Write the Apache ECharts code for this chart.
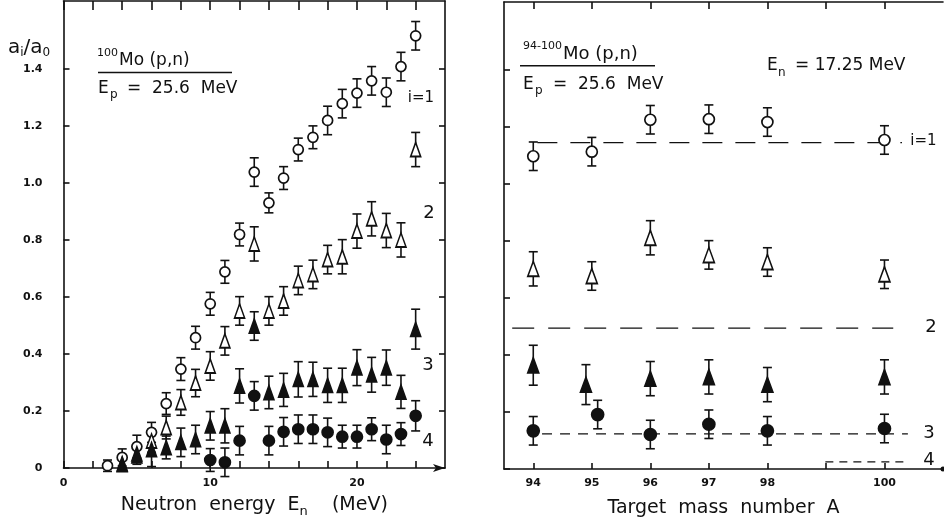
<!DOCTYPE html>
<html><head><meta charset="utf-8">
<script src="https://cdn.jsdelivr.net/npm/echarts@6/dist/echarts.min.js"></script>
<style>html,body{margin:0;padding:0;background:#fff}#c{width:944px;height:523px}</style>
</head><body><div id="c"></div>
<script>
// ---------- Left panel: 100Mo(p,n), Ep = 25.6 MeV ----------
const enI1  = [3,4,5,6,7,8,9,10,11,12,13,14,15,16,17,18,19,20,21,22,23,24];
const valI1 = [0.008,0.037,0.075,0.125,0.226,0.347,0.457,0.576,0.688,0.819,1.038,0.930,1.017,1.117,1.160,1.219,1.278,1.315,1.358,1.318,1.408,1.516];
const errI1 = [0.02,0.03,0.04,0.035,0.038,0.04,0.04,0.04,0.04,0.04,0.05,0.035,0.04,0.04,0.04,0.05,0.05,0.05,0.05,0.05,0.05,0.05];

const enI2  = [4,5,6,7,8,9,10,11,12,13,14,15,16,17,18,19,20,21,22,23,24];
const valI2 = [0.012,0.05,0.095,0.142,0.230,0.298,0.358,0.446,0.551,0.786,0.551,0.586,0.658,0.679,0.731,0.741,0.831,0.874,0.833,0.800,1.117];
const errI2 = [0.02,0.03,0.04,0.04,0.045,0.048,0.05,0.05,0.05,0.06,0.05,0.05,0.05,0.05,0.05,0.06,0.06,0.06,0.06,0.06,0.06];

const enI3  = [4,5,6,7,8,9,10,11,12,13,14,15,16,17,18,19,20,21,22,23,24];
const valI3 = [0.015,0.043,0.065,0.072,0.09,0.10,0.148,0.148,0.288,0.498,0.265,0.274,0.311,0.311,0.290,0.290,0.352,0.327,0.352,0.267,0.487];
const errI3 = [0.02,0.03,0.06,0.04,0.05,0.05,0.05,0.06,0.06,0.05,0.057,0.058,0.062,0.06,0.06,0.06,0.063,0.061,0.062,0.058,0.07];

const enI4  = [10,11,12,13,14,15,16,17,18,19,20,21,22,23,24];
const valI4 = [0.028,0.02,0.096,0.253,0.096,0.127,0.136,0.136,0.125,0.11,0.11,0.136,0.10,0.119,0.183];
const errI4 = [0.04,0.05,0.05,0.05,0.05,0.05,0.05,0.05,0.05,0.04,0.04,0.04,0.05,0.04,0.053];

// ---------- Right panel: 94-100Mo(p,n), En = 17.25 MeV ----------
const massI1 = [94,95,96,97,98,100];
const mValI1 = [1.097,1.113,1.225,1.227,1.217,1.154];
const mErrI1 = [0.05,0.05,0.05,0.05,0.05,0.05];
const massI2 = [94,95,96,97,98,100];
const mValI2 = [0.702,0.677,0.811,0.751,0.726,0.683];
const mErrI2 = [0.06,0.05,0.06,0.05,0.05,0.05];
const massI3 = [94,94.9,96,97,98,100];
const mValI3 = [0.364,0.296,0.317,0.323,0.296,0.323];
const mErrI3 = [0.07,0.07,0.06,0.06,0.06,0.06];
const massI4 = [94,95.1,96,97,98,100];
const mValI4 = [0.134,0.191,0.121,0.157,0.134,0.142];
const mErrI4 = [0.05,0.05,0.05,0.05,0.05,0.05];

// model (dashed) levels
const modelI1 = {x:[94.07,100.3], y:1.145};
const modelI2 = {x:[93.64,100.15], y:0.494};
const modelI3 = {x:[94.15,100.4], y:0.123};
const modelI4 = {x:[98.99,100.4], y:0.025};

// ticks
const yTicks = [0,0.2,0.4,0.6,0.8,1.0,1.2,1.4];
const enTicks = [0,2,4,6,8,10,12,14,16,18,20,22,24];
const enLabels = [0,10,20];
const massTicks = [94,95,96,97,98,99,100];
const massLabels = [94,95,96,97,98,100];

const Y_MAX = 1.638;
const INK = '#111';

function pts(xs, ys){ return xs.map((x,i)=>[x, ys[i]]); }
function errs(xs, ys, es){ return xs.map((x,i)=>[x, ys[i]-es[i], ys[i]+es[i]]); }
function errRender(params, api){
  const x = api.value(0);
  const a = api.coord([x, api.value(1)]), b = api.coord([x, api.value(2)]);
  const w = 4.5;
  const st = {stroke: INK, lineWidth: 1.6, fill: null};
  return {type:'group', children:[
    {type:'line', shape:{x1:a[0],y1:a[1],x2:b[0],y2:b[1]}, style:st},
    {type:'line', shape:{x1:a[0]-w,y1:a[1],x2:a[0]+w,y2:a[1]}, style:st},
    {type:'line', shape:{x1:b[0]-w,y1:b[1],x2:b[0]+w,y2:b[1]}, style:st}
  ]};
}
function errSeries(xi, yi, data){
  return {type:'custom', xAxisIndex:xi, yAxisIndex:yi, renderItem: errRender,
    encode:{x:0, y:[1,2]}, data, z:2, silent:true};
}
function scat(xi, yi, data, symbol, size, filled){
  return {type:'scatter', xAxisIndex:xi, yAxisIndex:yi, data, symbol, symbolSize:size, z:3,
    itemStyle:{color: filled ? INK : '#fff', borderColor: INK, borderWidth: 1.7, opacity:1},
    emphasis:{disabled:true}};
}
function dashLine(model, dash, w){
  return {type:'line', xAxisIndex:2, yAxisIndex:2, symbol:'none', z:1, silent:true,
    data: model.x.map(x=>[x, model.y]),
    lineStyle:{color: INK, width: w || 1.3, type: dash}};
}

const axLine = {show:true, onZero:false, lineStyle:{color: INK, width: 1.6}};
const font = 'DejaVu Sans';
const tickLbl = {color:INK, fontSize:11, fontWeight:'bold', fontFamily:font};

const option = {
  animation:false,
  backgroundColor:'#fff',
  textStyle:{fontFamily: font},
  grid:[
    {left:63.5, top:1, width:381.5, height:468},
    {left:504, top:2, width:439, height:468}
  ],
  xAxis:[
    {gridIndex:0, type:'value', min:0, max:26, position:'bottom',
     axisLine:{...axLine, symbol:['none','arrow'], symbolSize:[6,12]},
     axisTick:{inside:true, length:7, customValues: enTicks, lineStyle:{color:INK, width:1.6}},
     axisLabel:{...tickLbl, customValues: enLabels, margin:10},
     splitLine:{show:false},
     name:'{a|Neutron  energy  E}{s|n}{a|    (MeV)}', nameLocation:'middle', nameGap:24,
     nameTextStyle:{rich:{a:{fontSize:19, fontFamily:font, color:INK, lineHeight:26},
                          s:{fontSize:13, fontFamily:font, color:INK, lineHeight:13, verticalAlign:'bottom'}}}},
    {gridIndex:0, type:'value', min:0, max:26, position:'top',
     axisLine:axLine,
     axisTick:{inside:true, length:9, customValues: enTicks, lineStyle:{color:INK, width:1.6}},
     axisLabel:{show:false}, splitLine:{show:false}},
    {gridIndex:1, type:'value', min:93.5, max:101, position:'bottom',
     axisLine:{...axLine, symbol:['none','circle'], symbolSize:[5,5]},
     axisTick:{inside:true, length:6, customValues: massTicks, lineStyle:{color:INK, width:1.6}},
     axisLabel:{...tickLbl, customValues: massLabels, margin:9},
     splitLine:{show:false},
     name:'Target  mass  number  A', nameLocation:'middle', nameGap:30,
     nameTextStyle:{fontSize:19, fontFamily:font, color:INK}},
    {gridIndex:1, type:'value', min:93.5, max:101, position:'top',
     axisLine:axLine,
     axisTick:{inside:true, length:7, customValues: massTicks, lineStyle:{color:INK, width:1.6}},
     axisLabel:{show:false}, splitLine:{show:false}}
  ],
  yAxis:[
    {gridIndex:0, type:'value', min:0, max:Y_MAX, position:'left',
     axisLine:axLine,
     axisTick:{inside:true, length:6, customValues: yTicks, lineStyle:{color:INK, width:1.6}},
     axisLabel:{...tickLbl, customValues: yTicks, margin:21,
       formatter: v => v === 0 ? '0' : v.toFixed(1)},
     splitLine:{show:false}},
    {gridIndex:0, type:'value', min:0, max:Y_MAX, position:'right',
     axisLine:axLine,
     axisTick:{inside:true, length:6, customValues: yTicks, lineStyle:{color:INK, width:1.6}},
     axisLabel:{show:false}, splitLine:{show:false}},
    {gridIndex:1, type:'value', min:0, max:Y_MAX, position:'left',
     axisLine:axLine,
     axisTick:{inside:true, length:6, customValues: yTicks, lineStyle:{color:INK, width:1.6}},
     axisLabel:{show:false}, splitLine:{show:false}}
  ],
  series:[
    errSeries(0,0, errs(enI1,valI1,errI1)),
    errSeries(0,0, errs(enI2,valI2,errI2)),
    errSeries(0,0, errs(enI3,valI3,errI3)),
    errSeries(0,0, errs(enI4,valI4,errI4)),
    scat(0,0, pts(enI1,valI1), 'circle', 10, false),
    scat(0,0, pts(enI2,valI2), 'triangle', [10,14], false),
    scat(0,0, pts(enI3,valI3), 'triangle', [10,14], true),
    scat(0,0, pts(enI4,valI4), 'circle', 11, true),

    dashLine(modelI1, [20,13]),
    dashLine(modelI2, [22,14]),
    dashLine(modelI3, [10,8]),
    dashLine(modelI4, [8,6]),
    errSeries(2,2, errs(massI1,mValI1,mErrI1)),
    errSeries(2,2, errs(massI2,mValI2,mErrI2)),
    errSeries(2,2, errs(massI3,mValI3,mErrI3)),
    errSeries(2,2, errs(massI4,mValI4,mErrI4)),
    scat(2,2, pts(massI1,mValI1), 'circle', 11, false),
    scat(2,2, pts(massI2,mValI2), 'triangle', [11,15], false),
    scat(2,2, pts(massI3,mValI3), 'triangle', [11,15], true),
    scat(2,2, pts(massI4,mValI4), 'circle', 12, true)
  ],
  graphic:[
    // y-axis title
    {type:'text', left:8, top:38, style:{text:'{a|a}{s|i}{a|/a}{s|0}', fill:INK,
      rich:{a:{fontSize:20, fontFamily:font, lineHeight:22, fill:INK},
            s:{fontSize:12, fontFamily:font, lineHeight:12, verticalAlign:'bottom', fill:INK}}}},
    // left panel header
    {type:'text', x:97, y:53, style:{text:'100', font:'11px "DejaVu Sans"', fill:INK, verticalAlign:'middle'}},
    {type:'text', x:119, y:61, style:{text:'Mo (p,n)', font:'17px "DejaVu Sans"', fill:INK, verticalAlign:'middle'}},
    {type:'line', shape:{x1:98, y1:72.5, x2:232, y2:72.5}, style:{stroke:INK, lineWidth:1.6}},
    {type:'text', x:98, y:88.5, style:{text:'E', font:'17px "DejaVu Sans"', fill:INK, verticalAlign:'middle'}},
    {type:'text', x:110, y:95, style:{text:'p', font:'12px "DejaVu Sans"', fill:INK, verticalAlign:'middle'}},
    {type:'text', x:127, y:88.5, style:{text:'=  25.6  MeV', font:'17px "DejaVu Sans"', fill:INK, verticalAlign:'middle'}},
    // left panel curve labels
    {type:'text', x:421, y:98.5, style:{text:'i=1', font:'15px "DejaVu Sans"', fill:INK, align:'center', verticalAlign:'middle'}},
    {type:'text', x:429, y:213.5, style:{text:'2', font:'18px "DejaVu Sans"', fill:INK, align:'center', verticalAlign:'middle'}},
    {type:'text', x:428, y:365, style:{text:'3', font:'18px "DejaVu Sans"', fill:INK, align:'center', verticalAlign:'middle'}},
    {type:'text', x:428, y:441.5, style:{text:'4', font:'18px "DejaVu Sans"', fill:INK, align:'center', verticalAlign:'middle'}},
    // right panel header
    {type:'text', x:523, y:46, style:{text:'94-100', font:'11px "DejaVu Sans"', fill:INK, verticalAlign:'middle'}},
    {type:'text', x:563, y:54, style:{text:'Mo (p,n)', font:'18px "DejaVu Sans"', fill:INK, verticalAlign:'middle'}},
    {type:'line', shape:{x1:520, y1:65.7, x2:655, y2:65.7}, style:{stroke:INK, lineWidth:1.6}},
    {type:'text', x:523, y:84.5, style:{text:'E', font:'17px "DejaVu Sans"', fill:INK, verticalAlign:'middle'}},
    {type:'text', x:535, y:91, style:{text:'p', font:'12px "DejaVu Sans"', fill:INK, verticalAlign:'middle'}},
    {type:'text', x:553, y:84.5, style:{text:'=  25.6  MeV', font:'17px "DejaVu Sans"', fill:INK, verticalAlign:'middle'}},
    {type:'text', x:767, y:66, style:{text:'E', font:'17px "DejaVu Sans"', fill:INK, verticalAlign:'middle'}},
    {type:'text', x:778, y:73, style:{text:'n', font:'12px "DejaVu Sans"', fill:INK, verticalAlign:'middle'}},
    {type:'text', x:795, y:66, style:{text:'= 17.25 MeV', font:'17px "DejaVu Sans"', fill:INK, verticalAlign:'middle'}},
    // right panel curve labels
    {type:'text', x:923.5, y:141, style:{text:'i=1', font:'15px "DejaVu Sans"', fill:INK, align:'center', verticalAlign:'middle'}},
    {type:'text', x:931, y:327, style:{text:'2', font:'18px "DejaVu Sans"', fill:INK, align:'center', verticalAlign:'middle'}},
    {type:'text', x:929, y:433, style:{text:'3', font:'18px "DejaVu Sans"', fill:INK, align:'center', verticalAlign:'middle'}},
    {type:'text', x:929, y:460, style:{text:'4', font:'18px "DejaVu Sans"', fill:INK, align:'center', verticalAlign:'middle'}}
  ]
};

const chart = echarts.init(document.getElementById('c'), null, {renderer:'canvas'});
chart.setOption(option);
</script>
</body></html>
